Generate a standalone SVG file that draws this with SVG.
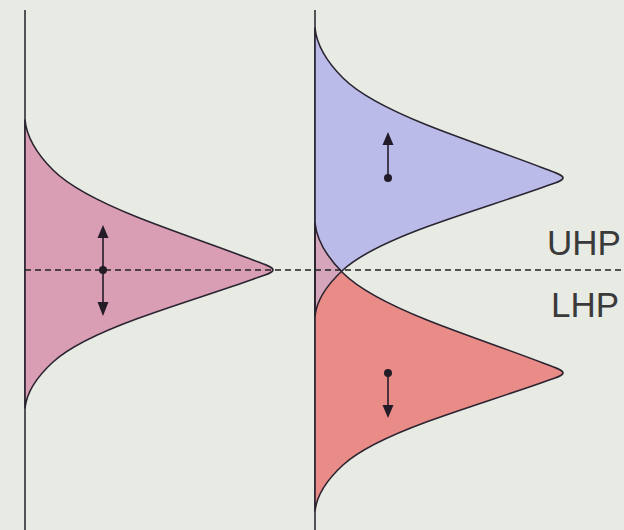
<svg xmlns="http://www.w3.org/2000/svg" xmlns:xlink="http://www.w3.org/1999/xlink" width="624" height="530" viewBox="0 0 624 530">
<style>
.axis{stroke:#2e2e34;stroke-width:1.6;fill:none}
.outline{fill:none;stroke:#2a2430;stroke-width:1.6;stroke-linejoin:round}
.arr{stroke:#231c28;stroke-width:1.6;fill:none}
.head{fill:#231c28}
.lbl{font-family:"Liberation Sans",Arial,sans-serif;font-size:35px;fill:#3a3a3a}
</style>
<defs>
<path id="bell" d="M0,-150 C1.7,-133 11,-117 28,-100 C46,-82 82,-65 112,-53 C147,-39 191.6,-24 228,-10 C241,-5 248,-3 248,0 C248,2.76 241,4.6 228,9.2 C191.6,22.08 147,35.88 112,48.76 C82,59.8 46,75.44 28,92 C11,107.64 1.7,122.36 0,138 Z"/>
<clipPath id="clipBlue"><use xlink:href="#bell" href="#bell" transform="translate(315,178)"/></clipPath>
<linearGradient id="ovl" gradientUnits="userSpaceOnUse" x1="0" y1="220" x2="0" y2="320">
<stop offset="0.5" stop-color="#d5a6bb"/>
<stop offset="0.5" stop-color="#c5a6d0"/>
</linearGradient>
</defs>
<rect width="624" height="530" fill="#e8eae4"/>
<g id="axes">
<line class="axis" x1="25" y1="10" x2="25" y2="530"/>
<line class="axis" x1="315" y1="10" x2="315" y2="530"/>
</g>
<g id="pink-single">
<use xlink:href="#bell" href="#bell" transform="translate(25,270)" fill="#d99db4"/>
<use xlink:href="#bell" href="#bell" transform="translate(25,270)" class="outline"/>
</g>
<g id="uhp-blue">
<use xlink:href="#bell" href="#bell" transform="translate(315,178)" fill="#babbe8"/>
</g>
<g id="lhp-red">
<use xlink:href="#bell" href="#bell" transform="translate(315,373)" fill="#e98c88"/>
</g>
<g id="overlap" clip-path="url(#clipBlue)">
<use xlink:href="#bell" href="#bell" transform="translate(315,373)" fill="url(#ovl)"/>
</g>
<g id="outlines">
<use xlink:href="#bell" href="#bell" transform="translate(315,178)" class="outline"/>
<use xlink:href="#bell" href="#bell" transform="translate(315,373)" class="outline"/>
</g>
<g id="connectors">
<line x1="25" y1="270" x2="624" y2="270" stroke="#222" stroke-width="1.4" stroke-dasharray="6 4"/>
<line class="arr" x1="103" y1="237" x2="103" y2="303"/>
<polygon class="head" points="103,225 97.5,238 108.5,238"/>
<polygon class="head" points="97.5,302 108.5,302 103,316"/>
<circle class="head" cx="103" cy="270" r="4"/>
<line class="arr" x1="388" y1="144" x2="388" y2="178"/>
<polygon class="head" points="388,132 382.5,145 393.5,145"/>
<circle class="head" cx="388" cy="178" r="4"/>
<line class="arr" x1="388" y1="373" x2="388" y2="406"/>
<polygon class="head" points="382.5,405 393.5,405 388,418"/>
<circle class="head" cx="388" cy="373" r="4"/>
</g>
<g id="labels">
<text class="lbl" x="547" y="255">UHP</text>
<text class="lbl" x="551" y="317">LHP</text>
</g>
</svg>
